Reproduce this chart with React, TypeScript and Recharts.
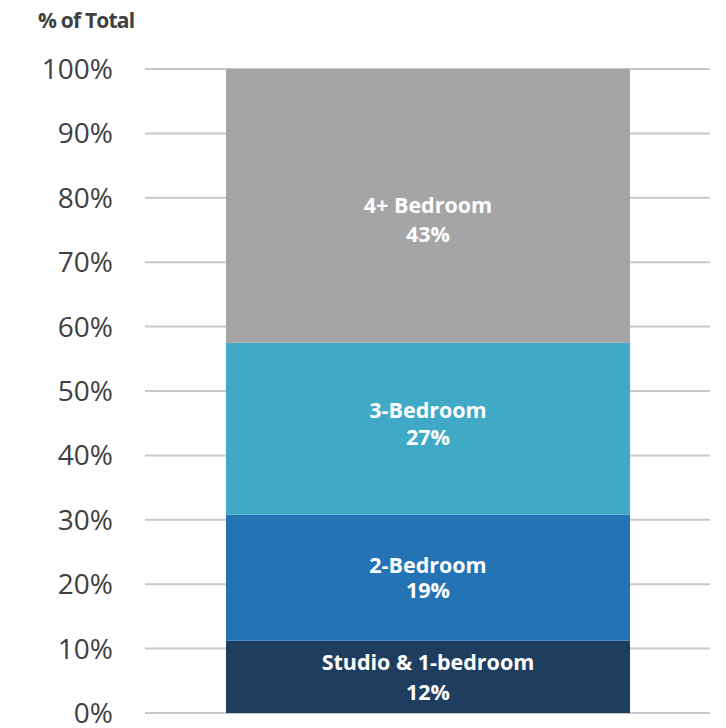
import { BarChart, Bar, XAxis, YAxis, CartesianGrid, LabelList } from 'recharts';

// Single stacked column, shares of total units
const categories = ['All units'];
const studioShare = [11.2];
const twoBedShare = [19.6];
const threeBedShare = [26.7];
const fourPlusShare = [42.5];

const seriesKeys = ['studio', 'twoBed', 'threeBed', 'fourPlus'];
const seriesNames = ['Studio & 1-bedroom', '2-Bedroom', '3-Bedroom', '4+ Bedroom'];
const pctLabels = ['12%', '19%', '27%', '43%'];
const yTicks = [0, 10, 20, 30, 40, 50, 60, 70, 80, 90, 100];

const colors: Record<string, string> = {
  studio: '#1f3e5f',
  twoBed: '#2473b5',
  threeBed: '#3fa9c6',
  fourPlus: '#a5a5a5',
};

// vertical text offsets (name line, pct line) relative to segment centre
const labelOffsets: Record<string, [number, number]> = {
  studio: [-14.5, 16],
  twoBed: [-12.5, 13],
  threeBed: [-18.5, 8.5],
  fourPlus: [0, 29],
};

const chartData = categories.map((c, i) => ({
  category: c,
  studio: studioShare[i],
  twoBed: twoBedShare[i],
  threeBed: threeBedShare[i],
  fourPlus: fourPlusShare[i],
}));

const makeLabel = (idx: number) => (props: any) => {
  const { x, y, width, height } = props;
  const key = seriesKeys[idx];
  const [o1, o2] = labelOffsets[key];
  const cx = Number(x) + Number(width) / 2;
  const cy = Number(y) + Number(height) / 2;
  const style = {
    fill: '#ffffff',
    fontSize: 21.5,
    fontWeight: 700,
    fontFamily: "'Open Sans', sans-serif",
  };
  return (
    <g>
      <text x={cx} y={cy + o1 + 7.5} textAnchor="middle" style={style}>
        {seriesNames[idx]}
      </text>
      <text x={cx} y={cy + o2 + 7.5} textAnchor="middle" style={style}>
        {pctLabels[idx]}
      </text>
    </g>
  );
};

export default function App() {
  return (
    <div style={{ position: 'absolute', left: 0, top: 0, width: 726, height: 728, background: '#fff' }}>
      <div
        style={{
          position: 'absolute',
          left: 38,
          top: 6,
          fontFamily: "'Open Sans', sans-serif",
          fontWeight: 700,
          fontSize: 21,
          letterSpacing: -0.8,
          color: '#404040',
        }}
      >
        % of Total
      </div>
      <BarChart
        width={726}
        height={728}
        data={chartData}
        margin={{ top: 69, right: 16, bottom: 15, left: 0 }}
        barCategoryGap={0}
      >
        <CartesianGrid vertical={false} stroke="#c8c8c8" strokeWidth={2} />
        <XAxis dataKey="category" hide />
        <YAxis
          width={145}
          domain={[0, 100]}
          ticks={yTicks}
          interval={0}
          tickFormatter={(v: number) => `${v}%`}
          axisLine={false}
          tickLine={false}
          tickSize={0}
          tickMargin={32}
          tick={{ fill: '#404040', fontSize: 28, fontFamily: "'Open Sans', sans-serif" }}
        />
        {seriesKeys.map((k, i) => (
          <Bar key={k} dataKey={k} stackId="a" fill={colors[k]} barSize={404} isAnimationActive={false}>
            <LabelList dataKey={k} content={makeLabel(i)} />
          </Bar>
        ))}
      </BarChart>
    </div>
  );
}
